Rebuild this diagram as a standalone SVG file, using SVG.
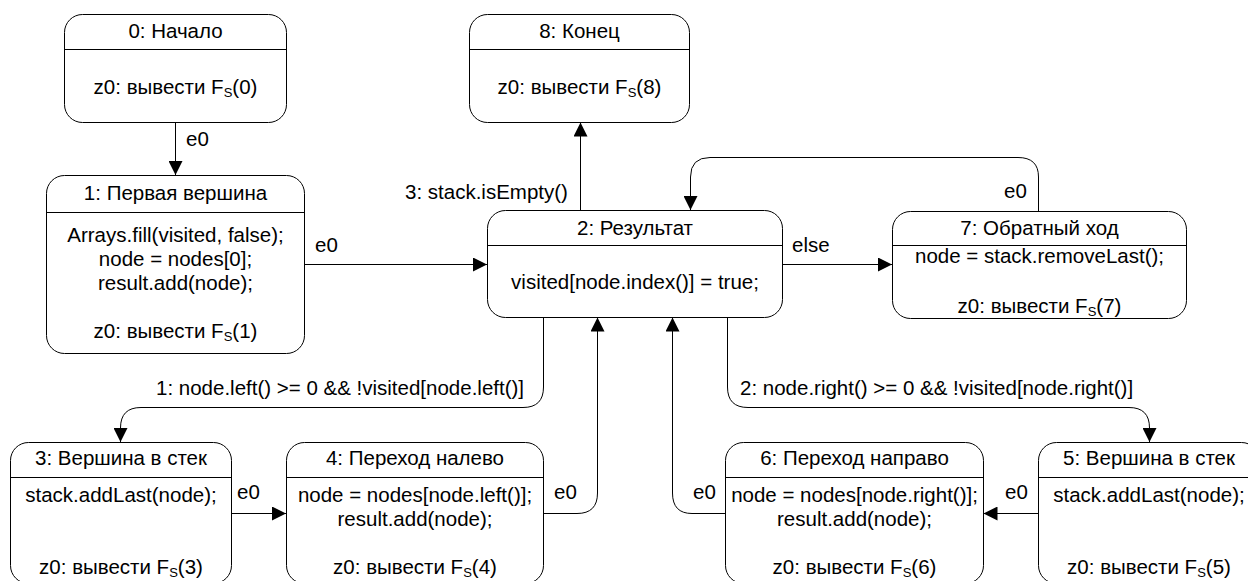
<svg xmlns="http://www.w3.org/2000/svg" width="1248" height="581" viewBox="0 0 1248 581">
<style>
.box{fill:#fff;stroke:#000;stroke-width:1}
.div{stroke:#000;stroke-width:1}
.t{font-family:"Liberation Sans",Arial,sans-serif;font-size:20.5px;fill:#000;text-anchor:middle}
.l{font-family:"Liberation Sans",Arial,sans-serif;font-size:20.5px;fill:#000;text-anchor:start}
.sub{font-size:13px}
.e{fill:none;stroke:#000;stroke-width:1}
</style>
<defs>
<marker id="arr" markerUnits="userSpaceOnUse" markerWidth="14" markerHeight="14" refX="14" refY="7" orient="auto">
<path d="M0,0 L14,7 L0,14 z" fill="#000"/>
</marker>
</defs>
<rect width="1248" height="581" fill="#fff"/>
<g id="connectors">
<path class="e" d="M175.5,122.5 V175" marker-end="url(#arr)"/>
<path class="e" d="M304.5,264.5 H487" marker-end="url(#arr)"/>
<path class="e" d="M580.5,210.5 V122.5" marker-end="url(#arr)"/>
<path class="e" d="M782.5,264.5 H892" marker-end="url(#arr)"/>
<path class="e" d="M1038.5,211.5 V177 Q1038.5,157.5 1018,157.5 H710 Q690.5,157.5 690.5,177 V210" marker-end="url(#arr)"/>
<path class="e" d="M543.5,317.5 V387 Q543.5,407.5 523,407.5 H141 Q120.5,407.5 120.5,428 V442" marker-end="url(#arr)"/>
<path class="e" d="M727.5,317.5 V387 Q727.5,407.5 748,407.5 H1129 Q1149.5,407.5 1149.5,428 V442" marker-end="url(#arr)"/>
<path class="e" d="M543.5,513.5 H577 Q597.5,513.5 597.5,493 V317.5" marker-end="url(#arr)"/>
<path class="e" d="M725.5,513.5 H692 Q672.5,513.5 672.5,493 V317.5" marker-end="url(#arr)"/>
<path class="e" d="M231.5,513.5 H286" marker-end="url(#arr)"/>
<path class="e" d="M1038.5,513.5 H983.5" marker-end="url(#arr)"/>
<text class="l" x="186" y="146">e0</text>
<text class="l" x="315" y="252">e0</text>
<text class="l" x="405" y="199">3: stack.isEmpty()</text>
<text class="l" x="792" y="252">else</text>
<text class="l" x="1004" y="198">e0</text>
<text class="l" x="156" y="395">1: node.left() &gt;= 0 &amp;&amp; !visited[node.left()]</text>
<text class="l" x="740" y="395">2: node.right() &gt;= 0 &amp;&amp; !visited[node.right()]</text>
<text class="l" x="237" y="499">e0</text>
<text class="l" x="554" y="499">e0</text>
<text class="l" x="693" y="499">e0</text>
<text class="l" x="1005" y="499">e0</text>
</g>
<g id="node0">
<rect class="box" x="64.5" y="14.5" width="222" height="108" rx="18"/>
<line class="div" x1="64.5" y1="49.5" x2="286.5" y2="49.5"/>
<text class="t" x="175.5" y="38">0: Начало</text>
<text class="t" x="175.5" y="94">z0: вывести F<tspan class="sub" dy="3">S</tspan><tspan dy="-3">(0)</tspan></text>
</g>
<g id="node8">
<rect class="box" x="469.5" y="14.5" width="220" height="108" rx="18"/>
<line class="div" x1="469.5" y1="49.5" x2="689.5" y2="49.5"/>
<text class="t" x="579.5" y="38">8: Конец</text>
<text class="t" x="579.5" y="94">z0: вывести F<tspan class="sub" dy="3">S</tspan><tspan dy="-3">(8)</tspan></text>
</g>
<g id="node1">
<rect class="box" x="46.5" y="175.5" width="258" height="178" rx="18"/>
<line class="div" x1="46.5" y1="212.5" x2="304.5" y2="212.5"/>
<text class="t" x="175.5" y="200">1: Первая вершина</text>
<text class="t" x="175.5" y="242">Arrays.fill(visited, false);</text>
<text class="t" x="175.5" y="266">node = nodes[0];</text>
<text class="t" x="175.5" y="290">result.add(node);</text>
<text class="t" x="175.5" y="338">z0: вывести F<tspan class="sub" dy="3">S</tspan><tspan dy="-3">(1)</tspan></text>
</g>
<g id="node2">
<rect class="box" x="487.5" y="210.5" width="295" height="107" rx="18"/>
<line class="div" x1="487.5" y1="245.5" x2="782.5" y2="245.5"/>
<text class="t" x="635" y="235">2: Результат</text>
<text class="t" x="635" y="289">visited[node.index()] = true;</text>
</g>
<g id="node7">
<rect class="box" x="892.5" y="211.5" width="294" height="107" rx="18"/>
<line class="div" x1="892.5" y1="245.5" x2="1186.5" y2="245.5"/>
<text class="t" x="1039.5" y="235">7: Обратный ход</text>
<text class="t" x="1039.5" y="263">node = stack.removeLast();</text>
<text class="t" x="1039.5" y="313">z0: вывести F<tspan class="sub" dy="3">S</tspan><tspan dy="-3">(7)</tspan></text>
</g>
<g id="node3">
<rect class="box" x="10.5" y="442.5" width="221" height="141" rx="18"/>
<line class="div" x1="10.5" y1="477.5" x2="231.5" y2="477.5"/>
<text class="t" x="121" y="465">3: Вершина в стек</text>
<text class="t" x="121" y="502">stack.addLast(node);</text>
<text class="t" x="121" y="574">z0: вывести F<tspan class="sub" dy="3">S</tspan><tspan dy="-3">(3)</tspan></text>
</g>
<g id="node4">
<rect class="box" x="286.5" y="442.5" width="257" height="141" rx="18"/>
<line class="div" x1="286.5" y1="477.5" x2="543.5" y2="477.5"/>
<text class="t" x="415" y="465">4: Переход налево</text>
<text class="t" x="415" y="502">node = nodes[node.left()];</text>
<text class="t" x="415" y="526">result.add(node);</text>
<text class="t" x="415" y="574">z0: вывести F<tspan class="sub" dy="3">S</tspan><tspan dy="-3">(4)</tspan></text>
</g>
<g id="node6">
<rect class="box" x="725.5" y="442.5" width="258" height="141" rx="18"/>
<line class="div" x1="725.5" y1="477.5" x2="983.5" y2="477.5"/>
<text class="t" x="854.5" y="465">6: Переход направо</text>
<text class="t" x="854.5" y="502">node = nodes[node.right()];</text>
<text class="t" x="854.5" y="526">result.add(node);</text>
<text class="t" x="854.5" y="574">z0: вывести F<tspan class="sub" dy="3">S</tspan><tspan dy="-3">(6)</tspan></text>
</g>
<g id="node5">
<rect class="box" x="1038.5" y="442.5" width="221" height="141" rx="18"/>
<line class="div" x1="1038.5" y1="477.5" x2="1259.5" y2="477.5"/>
<text class="t" x="1149" y="465">5: Вершина в стек</text>
<text class="t" x="1149" y="502">stack.addLast(node);</text>
<text class="t" x="1149" y="574">z0: вывести F<tspan class="sub" dy="3">S</tspan><tspan dy="-3">(5)</tspan></text>
</g>
</svg>
